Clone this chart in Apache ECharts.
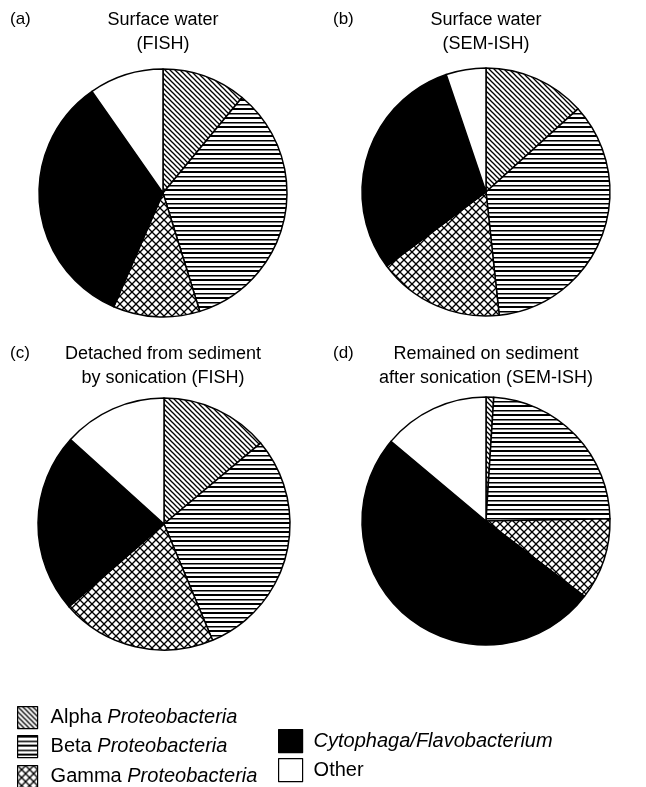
<!DOCTYPE html>
<html>
<head>
<meta charset="utf-8">
<script src="https://cdn.jsdelivr.net/npm/echarts@6/dist/echarts.min.js"></script>
<style>
html,body{margin:0;padding:0;background:#fff;}
#chart{width:646px;height:787px;}
</style>
</head>
<body>
<div id="chart"></div>
<script>
// ---- data (percent of cells) ----
const categories = ['Alpha Proteobacteria', 'Beta Proteobacteria', 'Gamma Proteobacteria', 'Cytophaga/Flavobacterium', 'Other'];
const panelLetters = ['(a)', '(b)', '(c)', '(d)'];
const panelTitles = ['Surface water\n(FISH)', 'Surface water\n(SEM-ISH)', 'Detached from sediment\nby sonication (FISH)', 'Remained on sediment\nafter sonication (SEM-ISH)'];
const valuesA = [11.0, 34.2, 11.3, 33.8, 9.7];
const valuesB = [13.3, 35.0, 16.5, 30.0, 5.2];
const valuesC = [13.9, 29.8, 19.9, 23.1, 13.3];
const valuesD = [1.0, 23.7, 10.7, 50.7, 13.9];
const panelValues = [valuesA, valuesB, valuesC, valuesD];

// ---- fill patterns ----
function makeTile(kind) {
  const c = document.createElement('canvas');
  const ctx = c.getContext('2d');
  if (kind === 'alpha') {
    const s = 5; c.width = s; c.height = s;
    ctx.fillStyle = '#fff'; ctx.fillRect(0, 0, s, s);
    ctx.strokeStyle = '#000'; ctx.lineWidth = 1.3;
    [-s, 0, s].forEach(k => { ctx.beginPath(); ctx.moveTo(k - 1, -1); ctx.lineTo(k + s + 1, s + 1); ctx.stroke(); });
  } else if (kind === 'beta') {
    c.width = 8; c.height = 9;
    ctx.fillStyle = '#fff'; ctx.fillRect(0, 0, 8, 9);
    ctx.fillStyle = '#000'; ctx.fillRect(0, 0, 8, 2); ctx.fillRect(0, 5, 8, 1.5);
  } else if (kind === 'gamma') {
    const s = 8; c.width = s; c.height = s;
    ctx.fillStyle = '#fff'; ctx.fillRect(0, 0, s, s);
    ctx.strokeStyle = '#000'; ctx.lineWidth = 1.3;
    [-s, 0, s].forEach(k => { ctx.beginPath(); ctx.moveTo(k - 1, -1); ctx.lineTo(k + s + 1, s + 1); ctx.stroke(); });
    [0, s, 2 * s].forEach(k => { ctx.beginPath(); ctx.moveTo(k + 1, -1); ctx.lineTo(k - s - 1, s + 1); ctx.stroke(); });
  }
  return c;
}
const fills = [
  { image: makeTile('alpha'), repeat: 'repeat' },
  { image: makeTile('beta'), repeat: 'repeat' },
  { image: makeTile('gamma'), repeat: 'repeat' },
  '#000',
  '#fff'
];

const centers = [[163, 193], [486, 192], [164, 524], [486, 521]];
const radii = [124, 124, 126, 124];
const titleTops = [8, 8, 342, 342];
const font = 'Liberation Sans, Arial, sans-serif';

const titles = [];
panelTitles.forEach((t, i) => {
  titles.push({
    text: t, left: i % 2 === 0 ? 163 : 486, top: titleTops[i], textAlign: 'center', padding: 0,
    textStyle: { fontSize: 18, fontWeight: 'normal', color: '#000', fontFamily: font, lineHeight: 24 }
  });
  titles.push({
    text: panelLetters[i], left: i % 2 === 0 ? 10 : 333, top: titleTops[i] - 1, padding: 0,
    textStyle: { fontSize: 17, fontWeight: 'normal', color: '#000', fontFamily: font, lineHeight: 24 }
  });
});

const series = panelValues.map((vals, i) => ({
  type: 'pie',
  center: centers[i],
  radius: [0, radii[i]],
  startAngle: 90,
  clockwise: true,
  animation: false,
  silent: true,
  label: { show: false },
  labelLine: { show: false },
  emphasis: { disabled: true },
  itemStyle: { borderColor: '#000', borderWidth: 1.5 },
  data: categories.map((name, j) => ({ name: name, value: vals[j], itemStyle: { color: fills[j] } }))
}));

const FS = 20;
function legendText(gap) {
  return {
    fontSize: FS, color: '#000', fontFamily: font,
    rich: {
      g: { width: gap },
      n: { fontSize: FS, color: '#000', fontFamily: font },
      i: { fontSize: FS, color: '#000', fontFamily: font, fontStyle: 'italic' }
    }
  };
}
function fmt(name) {
  if (name === 'Other') return '{g|}{n|Other}';
  if (name.indexOf('Cytophaga') === 0) return '{g|}{i|' + name + '}';
  const p = name.split(' ');
  return '{g|}{n|' + p[0] + ' }{i|' + p[1] + '}';
}
// legend rows: [category index, left, swatch top, swatch width, swatch height, text gap]
const legendRows = [
  [0, 17, 706, 20, 22, 8],
  [1, 17, 735, 20, 22, 8],
  [2, 17, 765, 20, 22, 8],
  [3, 278, 729, 24, 23, 6],
  [4, 278, 758, 24, 23, 6]
];
const legends = legendRows.map(r => ({
  data: [categories[r[0]]], orient: 'vertical', left: r[1], top: r[2], padding: 0,
  itemWidth: r[3], itemHeight: r[4], icon: 'rect', selectedMode: false,
  itemStyle: { borderColor: '#000', borderWidth: 1.2 },
  textStyle: legendText(r[5]), formatter: fmt
}));

const option = {
  backgroundColor: '#fff',
  animation: false,
  title: titles,
  legend: legends,
  series: series
};

const chart = echarts.init(document.getElementById('chart'), null, { renderer: 'canvas' });
chart.setOption(option);
</script>
</body>
</html>
